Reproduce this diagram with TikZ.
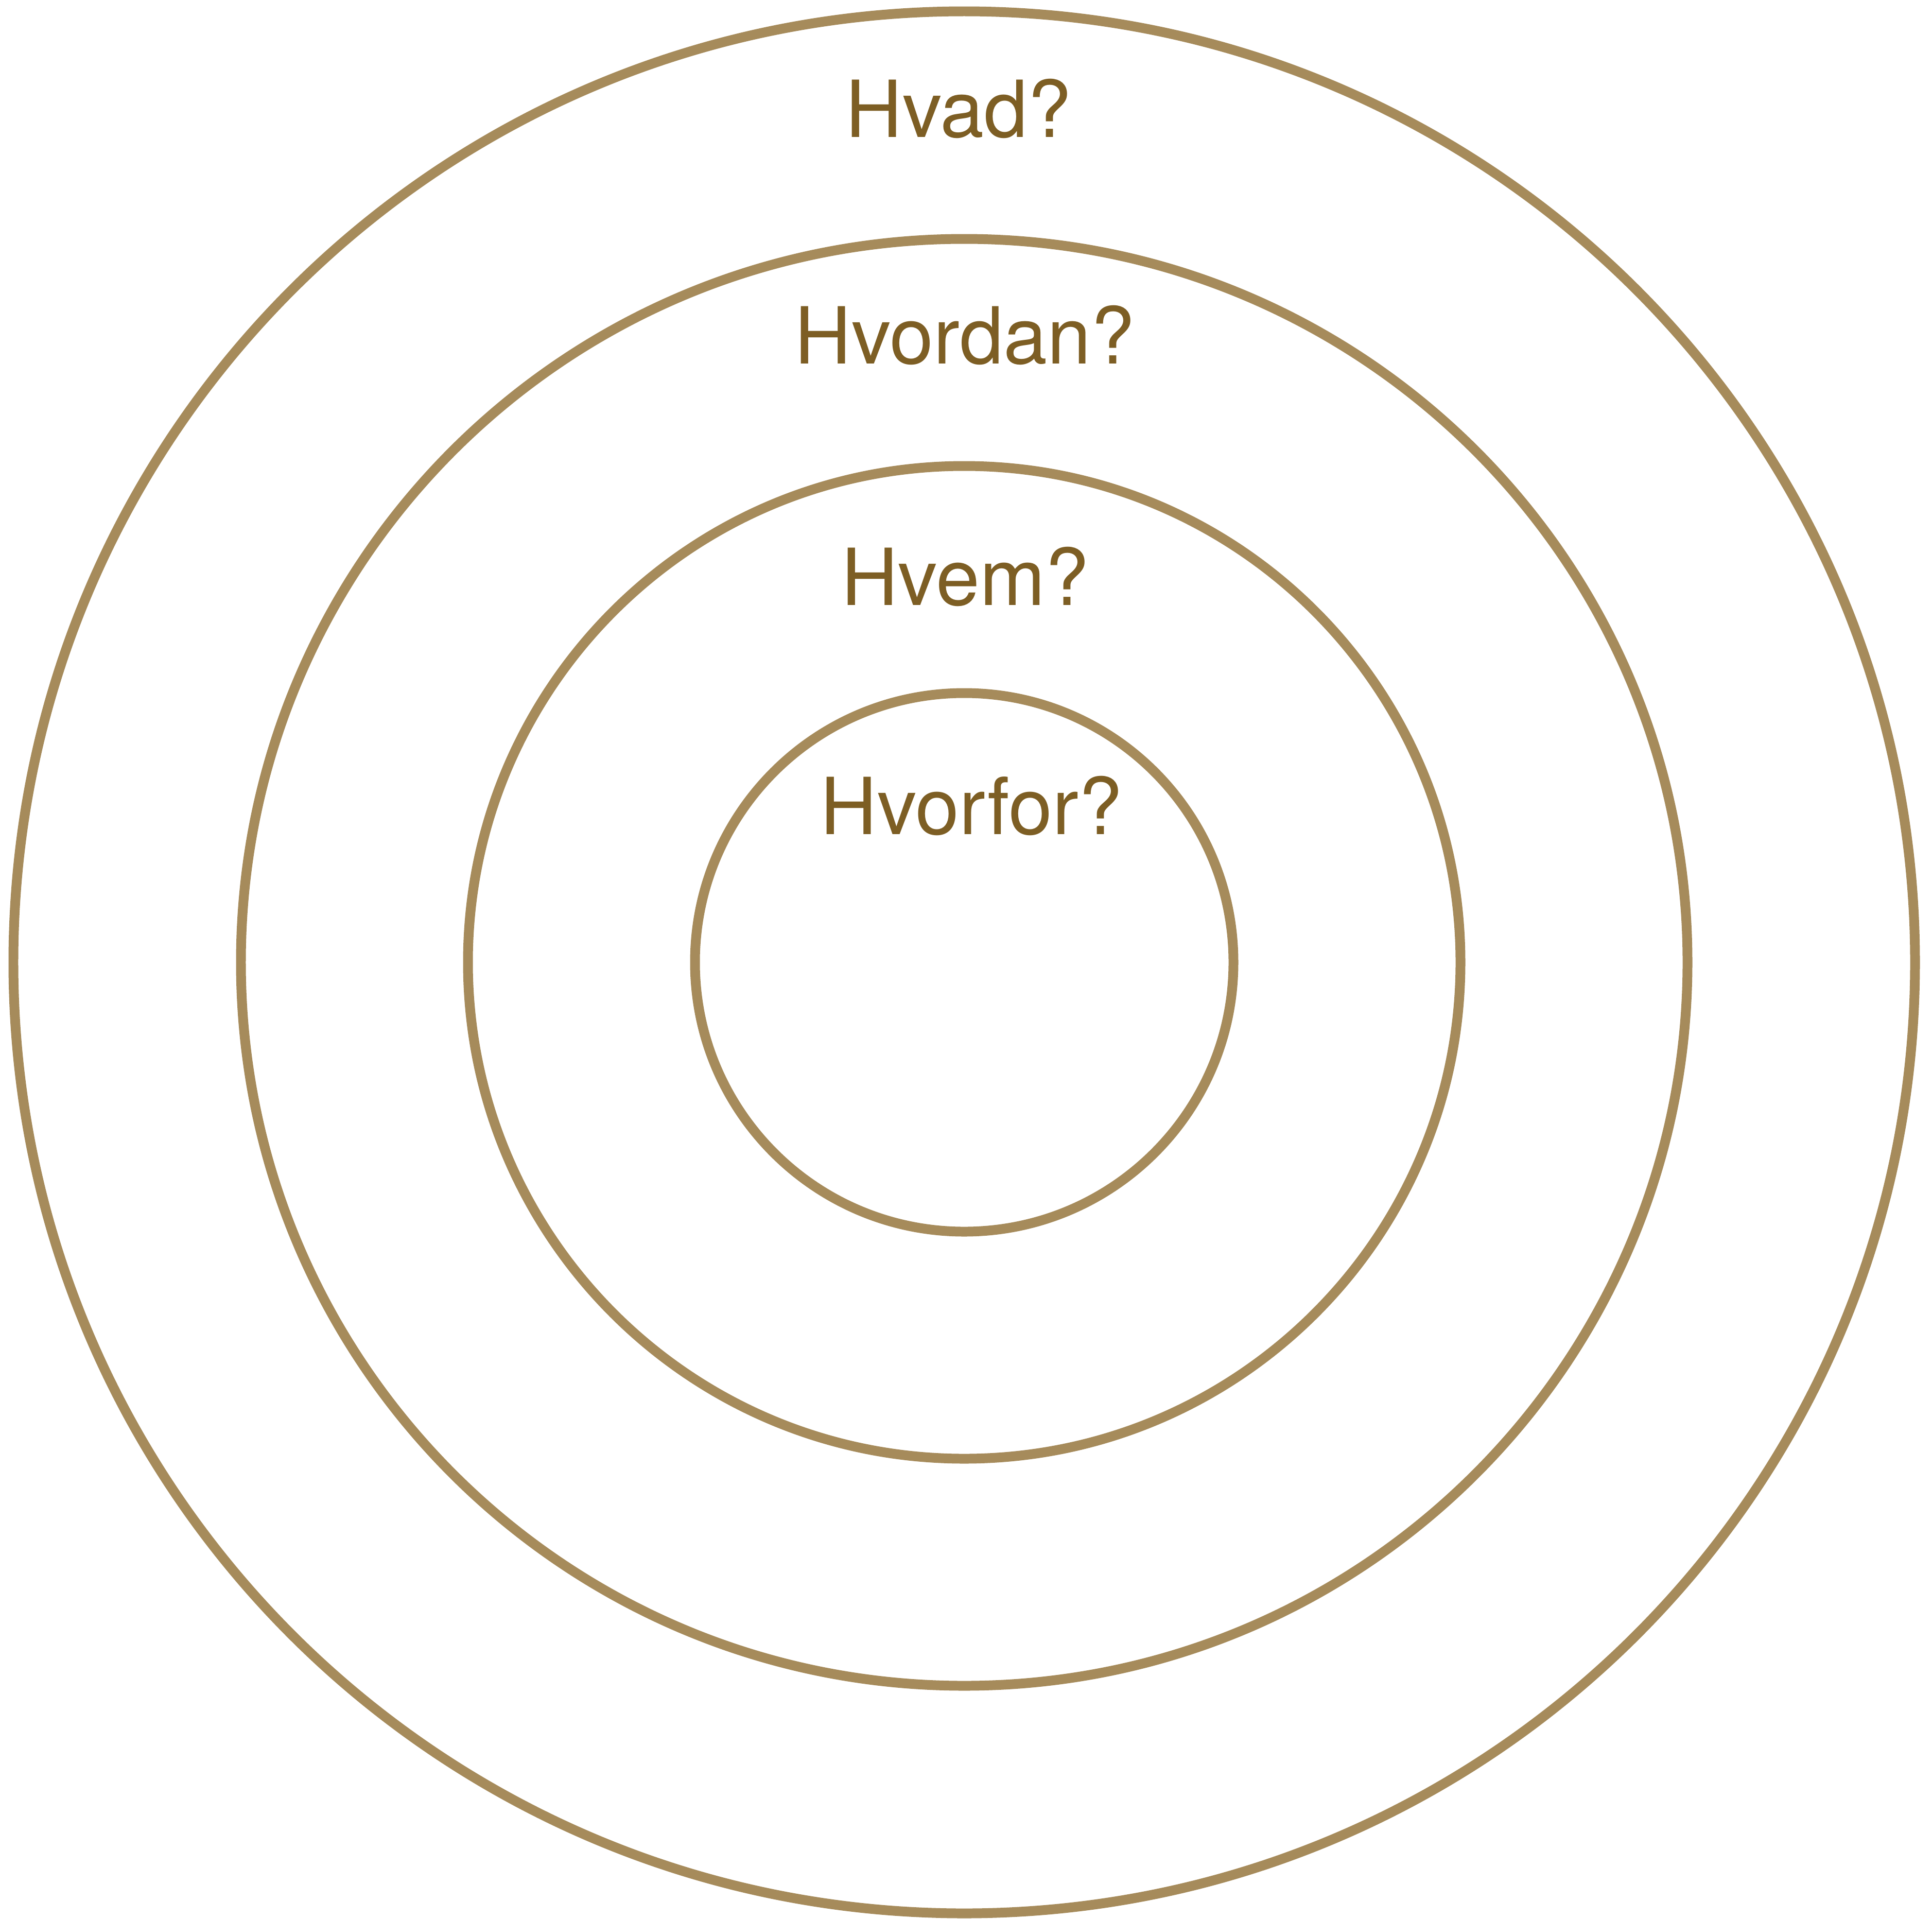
\documentclass[tikz,border=0pt]{standalone}
\usepackage{fontspec}
\setmainfont{TeX Gyre Heros}
\definecolor{ringtan}{RGB}{166, 139, 91}
\definecolor{labelbrown}{RGB}{125, 94, 36}

\begin{document}
\begin{tikzpicture}[line width=5.4pt,
    ringline/.style={draw=ringtan},
    ringlabel/.style={anchor=base, inner sep=0pt, text=labelbrown, font=\fontsize{43.5pt}{50pt}\selectfont}]
    % Dimensions (1 unit = 100 px of the picture)
    \def\W{37.53}  % picture width
    \def\Hgt{37.26} % picture height
    \def\rA{18.47} % outer ring
    \def\rB{14.05}
    \def\rC{9.64}
    \def\rD{5.23}  % inner ring

    \useasboundingbox (0,0) rectangle (\W,-\Hgt);

    % 1. Common centre
    \coordinate (C) at (18.73,-18.69);

    % 2. Rings
    \draw[ringline] (C) circle (\rA);
    \draw[ringline] (C) circle (\rB);
    \draw[ringline] (C) circle (\rC);
    \draw[ringline] (C) circle (\rD);

    % 3. Questions, one per ring
    \node[ringlabel] (hvad) at (18.62,-2.66) {Hvad?};
    \node[ringlabel] (hvordan) at (18.74,-7.06) {Hvordan?};
    \node[ringlabel] (hvem) at (18.75,-11.75) {Hvem?};
    \node[ringlabel] (hvorfor) at (18.87,-16.20) {Hvorfor?};

\end{tikzpicture}
\end{document}
